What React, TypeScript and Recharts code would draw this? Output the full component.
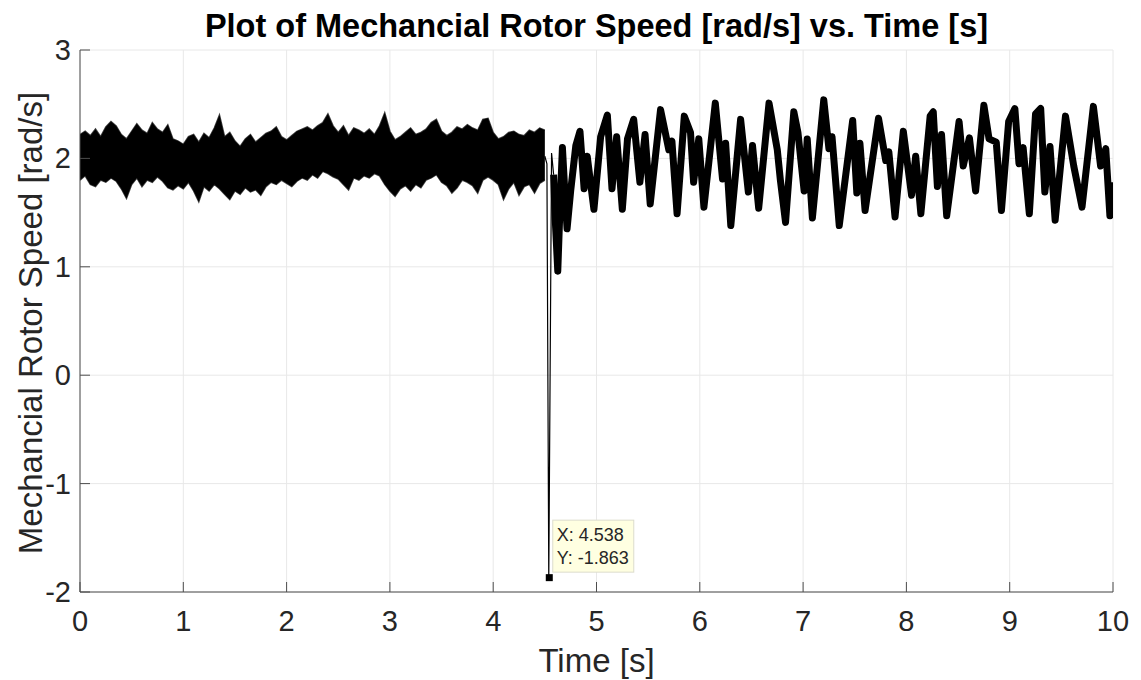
import { ComposedChart, Area, Line, XAxis, YAxis, CartesianGrid, ReferenceDot } from "recharts";

// time step of the pre-fault band samples [s]
const BAND_STEP = 0.05;

// upper / lower envelope of the noisy speed band, t = 0 .. 4.5 s
const bandUpper = [
  2.22, 2.25, 2.21, 2.27, 2.2, 2.29, 2.34, 2.3, 2.22, 2.18, 2.25, 2.32, 2.26, 2.23, 2.33, 2.27,
  2.24, 2.31, 2.18, 2.16, 2.13, 2.2, 2.22, 2.15, 2.23, 2.19, 2.28, 2.4, 2.2, 2.24, 2.16, 2.11,
  2.18, 2.22, 2.15, 2.19, 2.23, 2.25, 2.29, 2.2, 2.17, 2.21, 2.25, 2.27, 2.29, 2.26, 2.3, 2.33,
  2.41, 2.3, 2.24, 2.3, 2.21, 2.28, 2.26, 2.23, 2.27, 2.22, 2.3, 2.42, 2.25, 2.17, 2.2, 2.24,
  2.28, 2.22, 2.24, 2.27, 2.33, 2.36, 2.25, 2.21, 2.24, 2.29, 2.27, 2.31, 2.28, 2.26, 2.36, 2.37,
  2.24, 2.18, 2.2, 2.24, 2.25, 2.22, 2.21, 2.26, 2.24, 2.28, 2.26,
];
const bandLower = [
  1.8, 1.84, 1.76, 1.74, 1.8, 1.78, 1.82, 1.79, 1.72, 1.63, 1.76, 1.82, 1.74, 1.8, 1.78, 1.83,
  1.79, 1.73, 1.71, 1.75, 1.72, 1.78, 1.7, 1.6, 1.74, 1.7, 1.76, 1.72, 1.67, 1.62, 1.7, 1.67,
  1.73, 1.69, 1.71, 1.66, 1.74, 1.78, 1.76, 1.8, 1.77, 1.74, 1.79, 1.82, 1.8, 1.85, 1.82, 1.88,
  1.86, 1.83, 1.81, 1.76, 1.71, 1.82, 1.8, 1.84, 1.82, 1.86, 1.84, 1.76, 1.7, 1.65, 1.72, 1.75,
  1.7, 1.76, 1.73, 1.8, 1.82, 1.85, 1.78, 1.75, 1.68, 1.73, 1.8, 1.78, 1.75, 1.68, 1.8, 1.83,
  1.8, 1.76, 1.62, 1.72, 1.78, 1.66, 1.74, 1.76, 1.68, 1.77, 1.8,
];

// the fault transient (thin trace)
const dipTime = [4.5, 4.52, 4.538, 4.565, 4.585];
const dipValue = [2.02, 1.95, -1.863, 2.05, 1.85];

// post-fault oscillation, peaks and troughs
const oscTime = [
  4.585, 4.6, 4.625, 4.645, 4.67, 4.69, 4.715, 4.75, 4.8, 4.84, 4.88, 4.91, 4.975, 5.04, 5.105,
  5.15, 5.195, 5.25, 5.3, 5.36, 5.42, 5.47, 5.52, 5.62, 5.7, 5.73, 5.78, 5.85, 5.91, 5.94, 5.99,
  6.04, 6.15, 6.22, 6.25, 6.3, 6.395, 6.47, 6.51, 6.57, 6.67, 6.75, 6.78, 6.83, 6.91, 6.95, 7.01,
  7.04, 7.09, 7.2, 7.25, 7.28, 7.35, 7.48, 7.52, 7.55, 7.6, 7.73, 7.8, 7.83, 7.89, 7.97, 8.05,
  8.09, 8.14, 8.23, 8.26, 8.3, 8.34, 8.39, 8.51, 8.55, 8.61, 8.67, 8.75, 8.8, 8.87, 8.92, 8.99,
  9.05, 9.09, 9.13, 9.19, 9.25, 9.3, 9.34, 9.39, 9.44, 9.54, 9.62, 9.7, 9.81, 9.88, 9.93, 9.97,
  10.0,
];
const oscValue = [
  1.85, 1.45, 0.96, 1.5, 2.1, 1.75, 1.35, 1.7, 2.12, 2.25, 1.72, 2.02, 1.53, 2.2, 2.4,
  1.72, 2.2, 1.53, 2.18, 2.36, 1.78, 2.22, 1.58, 2.45, 2.08, 2.16, 1.49, 2.39, 2.24, 1.78, 2.18,
  1.55, 2.51, 1.81, 2.14, 1.38, 2.36, 1.69, 2.12, 1.54, 2.51, 2.08, 1.8, 1.41, 2.43, 2.24, 1.7,
  2.18, 1.45, 2.54, 2.09, 2.2, 1.38, 2.35, 1.68, 2.14, 1.52, 2.37, 1.98, 2.06, 1.46, 2.25, 1.66,
  2.02, 1.49, 2.39, 2.43, 1.74, 2.22, 1.47, 2.34, 1.93, 2.19, 1.7, 2.49, 2.18, 2.15, 1.52, 2.34,
  2.46, 1.95, 2.1, 1.49, 2.41, 2.46, 1.69, 2.11, 1.43, 2.39, 1.93, 1.55, 2.48, 1.93, 2.09, 1.47,
  1.78,
];

const xTicks = [0, 1, 2, 3, 4, 5, 6, 7, 8, 9, 10];
const yTicks = [-2, -1, 0, 1, 2, 3];

const tip = { x: 4.538, y: -1.863 };

type Row = { t: number; band?: [number, number] | null; dip?: number; osc?: number };

const data: Row[] = [
  ...bandUpper.map((hi, i) => ({ t: +(i * BAND_STEP).toFixed(3), band: [bandLower[i], hi] as [number, number] })),
  ...dipTime.map((t, i) => ({ t, dip: dipValue[i] })),
  ...oscTime.map((t, i) => ({ t, osc: oscValue[i] })),
].sort((a, b) => a.t - b.t);

const FONT = '"Liberation Sans", Arial, Helvetica, sans-serif';
const TXT = "#262626";
const AXIS = "#4d4d4d";

const XTick = (p: any) => (
  <g>
    <line x1={p.x} y1={p.y} x2={p.x} y2={p.y - 10} stroke={AXIS} strokeWidth={1} />
    <text x={p.x} y={p.y + 39} textAnchor="middle" fontSize={29} fill={TXT} fontFamily={FONT}>
      {p.payload.value}
    </text>
  </g>
);

const YTick = (p: any) => (
  <g>
    <line x1={p.x} y1={p.y} x2={p.x + 10} y2={p.y} stroke={AXIS} strokeWidth={1} />
    <text x={p.x - 9} y={p.y + 10} textAnchor="end" fontSize={29} fill={TXT} fontFamily={FONT}>
      {p.payload.value}
    </text>
  </g>
);

const DataTip = (p: any) => {
  const cx = p.cx;
  const cy = p.cy;
  return (
    <g>
      <rect x={cx - 3} y={cy - 3} width={7} height={7} fill="#000" />
      <rect x={cx + 4} y={cy - 57} width={81} height={52} fill="#ffffe1" stroke="#dcdccc" />
      <text x={cx + 8} y={cy - 36} fontSize={18} fill={TXT} fontFamily={FONT}>
        X: {tip.x}
      </text>
      <text x={cx + 8} y={cy - 13} fontSize={18} fill={TXT} fontFamily={FONT}>
        Y: {tip.y}
      </text>
    </g>
  );
};

export default function App() {
  return (
    <div style={{ position: "absolute", left: 0, top: 0, width: 1141, height: 680, background: "#fff", fontFamily: FONT }}>
      <ComposedChart width={1141} height={680} data={data} margin={{ top: 50, right: 28, bottom: 38, left: 20 }}>
        <CartesianGrid stroke="#e8e8e8" strokeWidth={1} />
        <XAxis
          dataKey="t"
          type="number"
          domain={[0, 10]}
          ticks={xTicks}
          allowDataOverflow
          height={50}
          stroke={AXIS}
          tickSize={0}
          tickMargin={0}
          tick={XTick}
        />
        <YAxis
          type="number"
          domain={[-2, 3]}
          ticks={yTicks}
          allowDataOverflow
          width={60}
          stroke={AXIS}
          tickSize={0}
          tickMargin={0}
          tick={YTick}
        />
        <Area
          dataKey="band"
          type="linear"
          stroke="#000"
          strokeWidth={1.5}
          strokeOpacity={0.75}
          fill="#000"
          fillOpacity={1}
          dot={false}
          activeDot={false}
          isAnimationActive={false}
        />
        <Line dataKey="dip" type="linear" stroke="#000" strokeWidth={1.2} dot={false} activeDot={false} isAnimationActive={false} />
        <Line dataKey="osc" type="linear" stroke="#000" strokeWidth={7} strokeLinejoin="round" dot={false} activeDot={false} isAnimationActive={false} />
        <ReferenceDot x={tip.x} y={tip.y} r={3} shape={DataTip} />
      </ComposedChart>
      <div style={{ position: "absolute", left: 80, width: 1033, top: 8, textAlign: "center", fontSize: 32.5, fontWeight: "bold", color: "#000" }}>
        Plot of Mechancial Rotor Speed [rad/s] vs. Time [s]
      </div>
      <div style={{ position: "absolute", left: 80, width: 1033, top: 642, textAlign: "center", fontSize: 33, color: TXT }}>
        Time [s]
      </div>
      <div
        style={{
          position: "absolute",
          left: 31,
          top: 323,
          transform: "translate(-50%, -50%) rotate(-90deg)",
          whiteSpace: "nowrap",
          fontSize: 33,
          color: TXT,
        }}
      >
        Mechancial Rotor Speed [rad/s]
      </div>
    </div>
  );
}
